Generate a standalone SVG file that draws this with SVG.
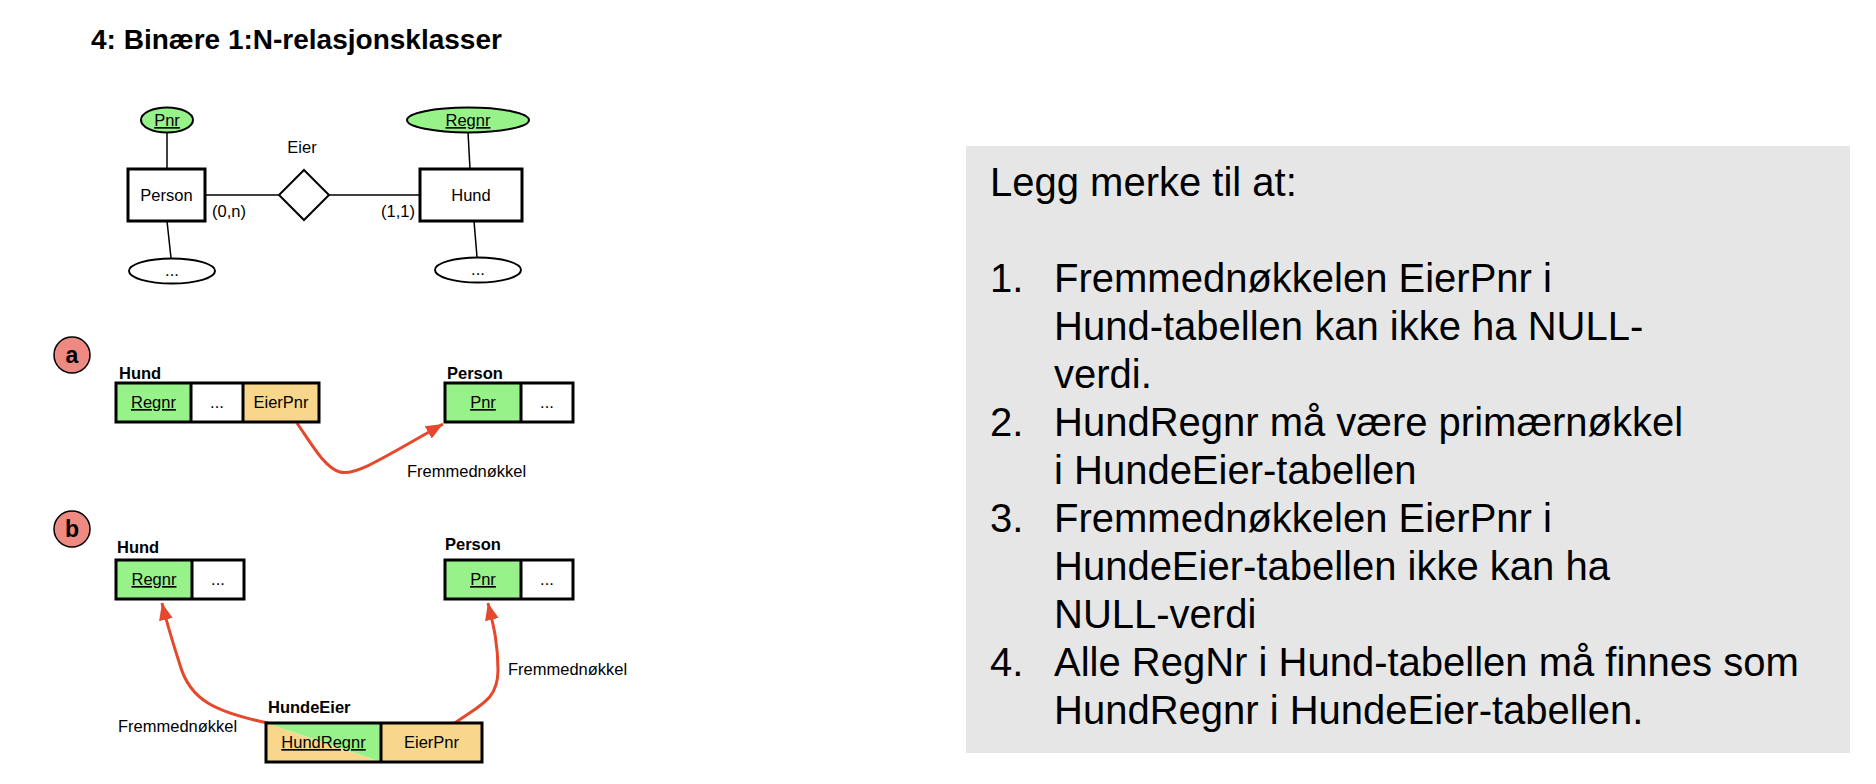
<svg xmlns="http://www.w3.org/2000/svg" width="1876" height="784" viewBox="0 0 1876 784">
<defs>
<style>
text{font-family:"Liberation Sans",Arial,sans-serif;fill:#000}
.t{font-size:16.5px}
.b{font-size:16.5px;font-weight:bold}
.c{text-anchor:middle}
.u{text-decoration:underline}
.ln{stroke:#000;stroke-width:1.5;fill:none}
.box{stroke:#000;stroke-width:2;fill:#fff}
.ent{stroke:#000;stroke-width:3;fill:#fff}
.tb{stroke:#000;stroke-width:3;fill:none}
.g{fill:#98F28A}
.o{fill:#F8D68C}
.w{fill:#fff}
.fk{stroke:#E5482C;stroke-width:3;fill:none;marker-end:url(#ah)}
.lbl{fill:#EE8A82;stroke:#000;stroke-width:1.5}
.big{font-size:40px}
</style>
<marker id="ah" markerUnits="userSpaceOnUse" markerWidth="18" markerHeight="14" refX="17" refY="7" orient="auto">
<path d="M0,0 L17,7 L0,14 Z" fill="#E5482C"/>
</marker>
</defs>
<rect width="1876" height="784" fill="#fff"/>
<text x="91" y="49" style="font-size:28px;font-weight:bold">4: Binære 1:N-relasjonsklasser</text>

<g id="connectors">
<line class="ln" x1="167" y1="132" x2="167" y2="169"/>
<line class="ln" x1="468" y1="132" x2="470" y2="169"/>
<line class="ln" x1="167" y1="221" x2="171" y2="258"/>
<line class="ln" x1="474" y1="221" x2="477" y2="257"/>
<line class="ln" x1="205" y1="195" x2="279" y2="195"/>
<line class="ln" x1="329" y1="195" x2="420" y2="195"/>
<path class="fk" d="M297,423 C312,445 325,468 340,472 C355,476 380,460 443,424"/>
<path class="fk" d="M268,723 C215,712 190,700 180,665 C172,640 166,620 162,603"/>
<path class="fk" d="M455,723 C480,705 498,700 498,670 C498,640 492,620 488,603"/>
</g>

<g id="er-pnr"><ellipse cx="167" cy="120" rx="26" ry="12.5" class="box g"/><text x="167" y="126" class="t c u">Pnr</text></g>
<g id="er-regnr"><ellipse cx="468" cy="120" rx="61" ry="12.5" class="box g"/><text x="468" y="126" class="t c u">Regnr</text></g>
<g id="er-person"><rect x="128" y="169" width="77" height="52" class="ent"/><text x="166.5" y="201" class="t c">Person</text></g>
<g id="er-hund"><rect x="420" y="169" width="102" height="52" class="ent"/><text x="471" y="201" class="t c">Hund</text></g>
<g id="er-eier"><path d="M304,170 L329,195 L304,220 L279,195 Z" class="box"/><text x="302" y="153" class="t c">Eier</text></g>
<g id="er-card"><text x="229" y="217" class="t c">(0,n)</text><text x="398" y="217" class="t c">(1,1)</text></g>
<g id="er-person-attr"><ellipse cx="172" cy="271" rx="43" ry="12.5" class="box"/><text x="172" y="276" class="t c">...</text></g>
<g id="er-hund-attr"><ellipse cx="478" cy="270" rx="43" ry="12.5" class="box"/><text x="478" y="275" class="t c">...</text></g>

<g id="label-a"><circle cx="72" cy="355" r="18" class="lbl"/><text x="72" y="363" class="c" style="font-size:23px;font-weight:bold">a</text></g>
<g id="a-hund">
<text x="119" y="379" class="b">Hund</text>
<rect x="116" y="383" width="75" height="39" class="g"/>
<rect x="191" y="383" width="52" height="39" class="w"/>
<rect x="243" y="383" width="76" height="39" class="o"/>
<rect x="116" y="383" width="203" height="39" class="tb"/>
<line x1="191" y1="383" x2="191" y2="422" class="tb"/>
<line x1="243" y1="383" x2="243" y2="422" class="tb"/>
<text x="153.5" y="408" class="t c u">Regnr</text>
<text x="217" y="408" class="t c">...</text>
<text x="281" y="408" class="t c">EierPnr</text>
</g>
<g id="a-person">
<text x="447" y="379" class="b">Person</text>
<rect x="445" y="383" width="76" height="39" class="g"/>
<rect x="521" y="383" width="52" height="39" class="w"/>
<rect x="445" y="383" width="128" height="39" class="tb"/>
<line x1="521" y1="383" x2="521" y2="422" class="tb"/>
<text x="483" y="408" class="t c u">Pnr</text>
<text x="547" y="408" class="t c">...</text>
</g>
<text x="407" y="477" class="t">Fremmednøkkel</text>

<g id="label-b"><circle cx="72" cy="529" r="18" class="lbl"/><text x="72" y="537" class="c" style="font-size:23px;font-weight:bold">b</text></g>
<g id="b-hund">
<text x="117" y="553" class="b">Hund</text>
<rect x="116" y="560" width="76" height="39" class="g"/>
<rect x="192" y="560" width="52" height="39" class="w"/>
<rect x="116" y="560" width="128" height="39" class="tb"/>
<line x1="192" y1="560" x2="192" y2="599" class="tb"/>
<text x="154" y="585" class="t c u">Regnr</text>
<text x="218" y="585" class="t c">...</text>
</g>
<g id="b-person">
<text x="445" y="550" class="b">Person</text>
<rect x="445" y="560" width="76" height="39" class="g"/>
<rect x="521" y="560" width="52" height="39" class="w"/>
<rect x="445" y="560" width="128" height="39" class="tb"/>
<line x1="521" y1="560" x2="521" y2="599" class="tb"/>
<text x="483" y="585" class="t c u">Pnr</text>
<text x="547" y="585" class="t c">...</text>
</g>
<g id="b-hundeeier">
<text x="268" y="713" class="b">HundeEier</text>
<polygon points="266,723 381,723 381,762" class="g"/>
<polygon points="266,723 381,762 266,762" class="o"/>
<rect x="381" y="723" width="101" height="39" class="o"/>
<rect x="266" y="723" width="216" height="39" class="tb"/>
<line x1="381" y1="723" x2="381" y2="762" class="tb"/>
<text x="323.5" y="748" class="t c u">HundRegnr</text>
<text x="431.5" y="748" class="t c">EierPnr</text>
</g>
<text x="118" y="732" class="t">Fremmednøkkel</text>
<text x="508" y="675" class="t">Fremmednøkkel</text>

<g id="note">
<rect x="966" y="146" width="884" height="607" fill="#E6E6E6"/>
<text x="990" y="196" class="big">Legg merke til at:</text>
<text x="990" y="292" class="big">1.</text>
<text x="1054" y="292" class="big">Fremmednøkkelen EierPnr i</text>
<text x="1054" y="340" class="big">Hund-tabellen kan ikke ha NULL-</text>
<text x="1054" y="388" class="big">verdi.</text>
<text x="990" y="436" class="big">2.</text>
<text x="1054" y="436" class="big">HundRegnr må være primærnøkkel</text>
<text x="1054" y="484" class="big">i HundeEier-tabellen</text>
<text x="990" y="532" class="big">3.</text>
<text x="1054" y="532" class="big">Fremmednøkkelen EierPnr i</text>
<text x="1054" y="580" class="big">HundeEier-tabellen ikke kan ha</text>
<text x="1054" y="628" class="big">NULL-verdi</text>
<text x="990" y="676" class="big">4.</text>
<text x="1054" y="676" class="big">Alle RegNr i Hund-tabellen må finnes som</text>
<text x="1054" y="724" class="big">HundRegnr i HundeEier-tabellen.</text>
</g>
</svg>
